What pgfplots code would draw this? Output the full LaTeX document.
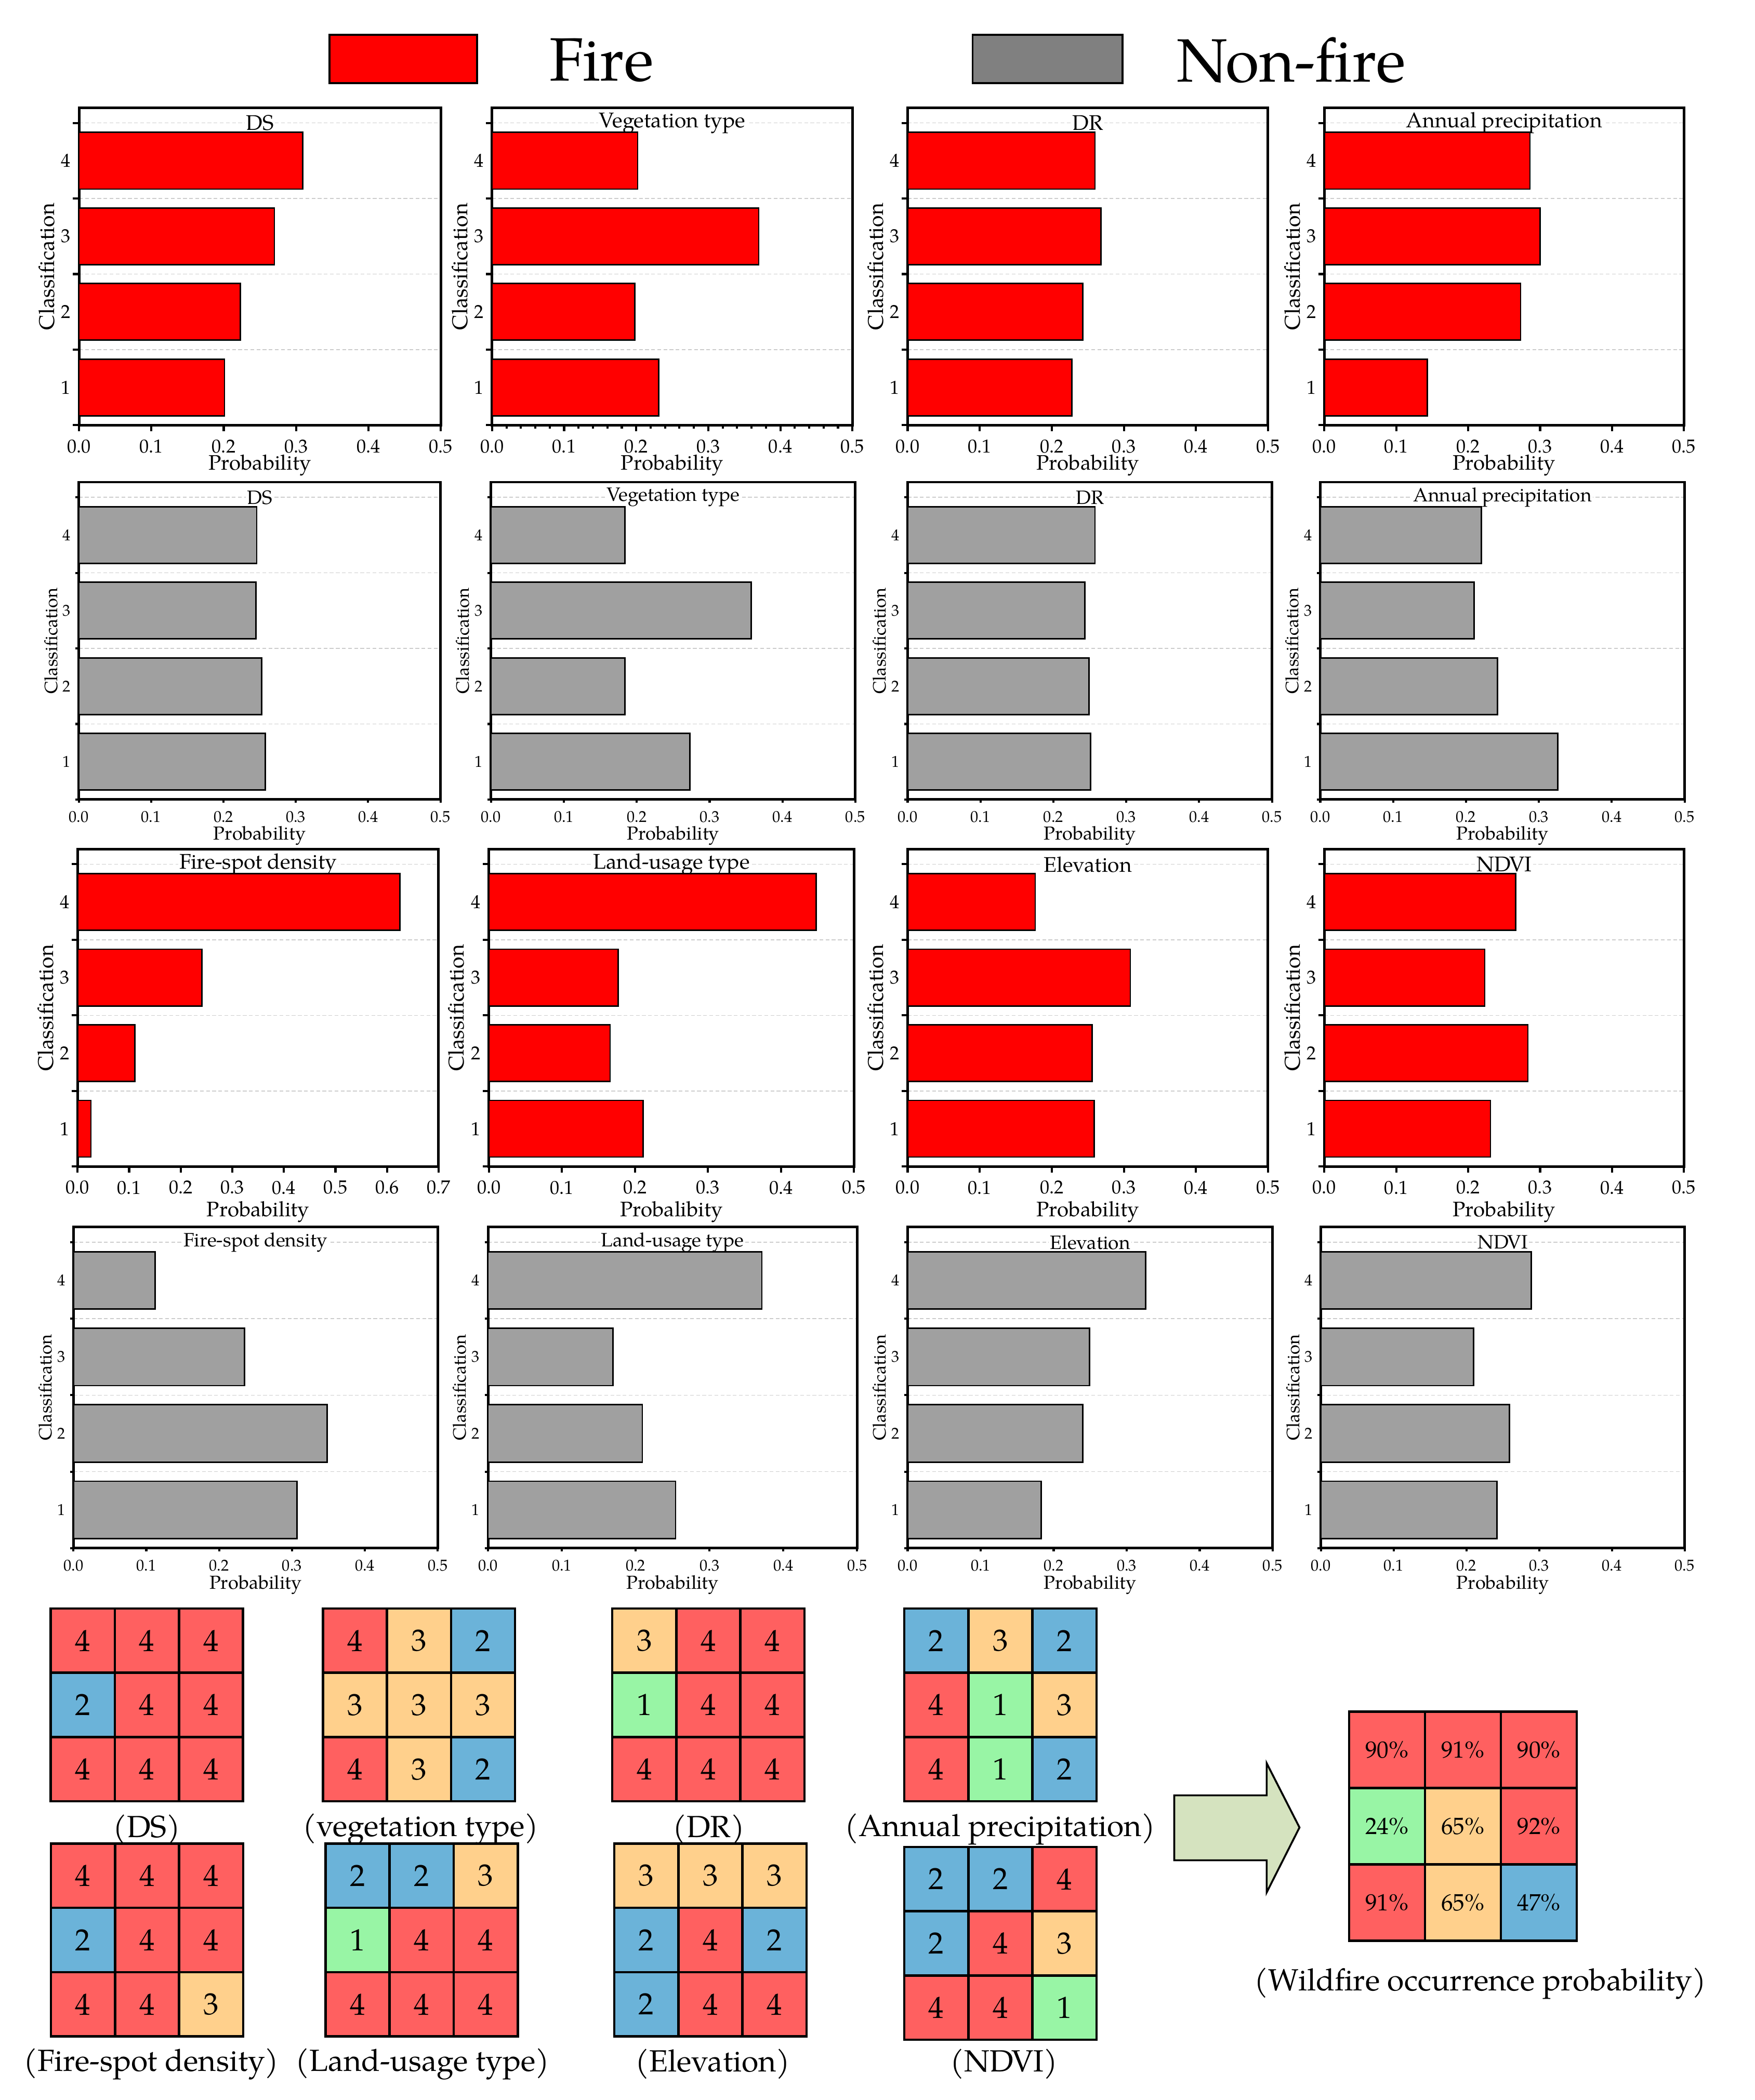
\documentclass[border=0pt]{standalone}
\usepackage{fontspec}
\setmainfont{TeX Gyre Pagella}
\usepackage{pgfplots}
\usepackage{pgfplotstable}
\pgfplotsset{compat=1.18}
\definecolor{firered}{HTML}{FF0000}
\definecolor{bargray}{HTML}{A0A0A0}
\definecolor{leggray}{HTML}{808080}
\definecolor{arrowfill}{HTML}{D5E3BF}
\newcommand{\fs}[1]{\fontsize{#1}{#1}\selectfont}

% class maps (rows top to bottom)
\pgfplotstableread{
x y c
0 0 4
1 0 4
2 0 4
0 1 2
1 1 4
2 1 4
0 2 4
1 2 4
2 2 4
}\gridDS
\pgfplotstableread{
x y c
0 0 4
1 0 3
2 0 2
0 1 3
1 1 3
2 1 3
0 2 4
1 2 3
2 2 2
}\gridVeg
\pgfplotstableread{
x y c
0 0 3
1 0 4
2 0 4
0 1 1
1 1 4
2 1 4
0 2 4
1 2 4
2 2 4
}\gridDR
\pgfplotstableread{
x y c
0 0 2
1 0 3
2 0 2
0 1 4
1 1 1
2 1 3
0 2 4
1 2 1
2 2 2
}\gridAP
\pgfplotstableread{
x y c
0 0 4
1 0 4
2 0 4
0 1 2
1 1 4
2 1 4
0 2 4
1 2 4
2 2 3
}\gridFSD
\pgfplotstableread{
x y c
0 0 2
1 0 2
2 0 3
0 1 1
1 1 4
2 1 4
0 2 4
1 2 4
2 2 4
}\gridLand
\pgfplotstableread{
x y c
0 0 3
1 0 3
2 0 3
0 1 2
1 1 4
2 1 2
0 2 2
1 2 4
2 2 4
}\gridElev
\pgfplotstableread{
x y c
0 0 2
1 0 2
2 0 4
0 1 2
1 1 4
2 1 3
0 2 4
1 2 4
2 2 1
}\gridNDVI
\pgfplotstableread{
x y c p
0 0 4 90
1 0 4 91
2 0 4 90
0 1 1 24
1 1 3 65
2 1 4 92
0 2 4 91
1 2 3 65
2 2 2 47
}\gridRes

\pgfplotsset{
  wfpanel/.style={
    scale only axis, anchor=north west, xbar, bar width=0.75,
    xmin=0, xmax=0.5, ymin=0.5, ymax=4.7,
    xtick distance=0.1,
    ytick={0.5,1.5,2.5,3.5,4.5}, yticklabels={},
    extra y ticks={1,2,3,4},
    extra y tick style={major tick length=0pt, grid=none},
    ymajorgrids, major grid style={black!20, line width=0.35pt, dash pattern=on 1.6pt off 1pt},
    xtick pos=lower, ytick pos=left, tick align=outside,
    minor tick length=0.05cm,
    tick style={black, line width=0.9pt},
    axis line style={line width=1.1pt},
    xticklabel style={/pgf/number format/fixed, /pgf/number format/fixed zerofill, /pgf/number format/precision=1, /pgf/number format/assume math mode=true},
    yticklabel style={/pgf/number format/assume math mode=true},
    xlabel={Probability}, ylabel={Classification},
  },
  wffire/.style={wfpanel, height=4.74cm, major tick length=0.09cm,
    tick label style={font=\fs{8}},
    xlabel style={font=\fs{8.9}, at={(axis description cs:0.5,-0.127)}, anchor=center},
    ylabel style={font=\fs{9.1}, at={(axis description cs:-0.089,0.5)}, anchor=center},
  },
  wfnon/.style={wfpanel, height=4.74cm, major tick length=0.05cm,
    tick label style={font=\fs{6.7}},
    xlabel style={font=\fs{8}, at={(axis description cs:0.5,-0.114)}, anchor=center},
    ylabel style={font=\fs{7.6}, at={(axis description cs:-0.077,0.5)}, anchor=center},
  },
  wfbarF/.style={fill=firered, draw=black, line width=0.6pt},
  wfbarN/.style={fill=bargray, draw=black, line width=0.6pt},
  wfcells/.style={
    scale only axis, anchor=north west, width=2.87cm, height=2.88cm,
    xmin=-0.5, xmax=2.5, ymin=-0.5, ymax=2.5, y dir=reverse,
    xtick={0.5,1.5}, ytick={0.5,1.5}, xticklabels={}, yticklabels={},
    major tick length=0pt, grid=major, major grid style={black, line width=1pt},
    axis line style={line width=1pt}, axis on top,
    colormap={cls}{rgb255=(152,245,165) rgb255=(107,179,217) rgb255=(255,208,140) rgb255=(255,96,96)},
    point meta min=1, point meta max=4,
  },
  wffill/.style={matrix plot, mesh/cols=3, point meta=explicit},
  wftext/.style={draw=none, mark=none, nodes near coords, nodes near coords align=center,
    point meta=explicit symbolic, every node near coord/.append style={font=\fs{13}, text=black}},
}
\tikzset{
  ttlA/.style={fill=white, inner sep=0.5pt, font=\fs{9}},
  ttlB/.style={fill=white, inner sep=0.5pt, font=\fs{8.2}},
  captxt/.style={font=\fs{13}},
}

\begin{document}
\begin{tikzpicture}
\path[use as bounding box] (0,0) rectangle (26.2,-31.36);

% legend
\draw[fill=firered, line width=0.8pt] (4.92,-0.52) rectangle (7.12,-1.24);
\node[anchor=west, inner sep=0pt, font=\fs{26}] at (8.2,-0.9) {Fire};
\draw[fill=leggray, line width=0.8pt] (14.52,-0.52) rectangle (16.76,-1.24);
\node[anchor=west, inner sep=0pt, font=\fs{26}] at (17.56,-0.9) {Non-fire};

% ---------- row 1: fire ----------
\begin{axis}[wffire, at={(1.18cm,-1.61cm)}, width=5.40cm]
\node[ttlA] at (rel axis cs:0.5,0.952) {DS};
\addplot[wfbarF] coordinates {(0.201,1) (0.223,2) (0.270,3) (0.309,4)};
\end{axis}
\begin{axis}[wffire, at={(7.346cm,-1.61cm)}, width=5.38cm, minor x tick num=4]
\node[ttlA] at (rel axis cs:0.5,0.952) {Vegetation type};
\addplot[wfbarF] coordinates {(0.231,1) (0.198,2) (0.370,3) (0.202,4)};
\end{axis}
\begin{axis}[wffire, at={(13.55cm,-1.61cm)}, width=5.38cm]
\node[ttlA] at (rel axis cs:0.5,0.952) {DR};
\addplot[wfbarF] coordinates {(0.228,1) (0.243,2) (0.268,3) (0.260,4)};
\end{axis}
\begin{axis}[wffire, at={(19.77cm,-1.61cm)}, width=5.37cm]
\node[ttlA] at (rel axis cs:0.5,0.952) {Annual precipitation};
\addplot[wfbarF] coordinates {(0.143,1) (0.273,2) (0.300,3) (0.286,4)};
\end{axis}

% ---------- row 2: non-fire ----------
\begin{axis}[wfnon, at={(1.176cm,-7.20cm)}, width=5.40cm]
\node[ttlB] at (rel axis cs:0.5,0.952) {DS};
\addplot[wfbarN] coordinates {(0.258,1) (0.253,2) (0.245,3) (0.246,4)};
\end{axis}
\begin{axis}[wfnon, at={(7.33cm,-7.20cm)}, width=5.44cm]
\node[ttlB] at (rel axis cs:0.5,0.952) {Vegetation type};
\addplot[wfbarN] coordinates {(0.273,1) (0.184,2) (0.357,3) (0.184,4)};
\end{axis}
\begin{axis}[wfnon, at={(13.55cm,-7.20cm)}, width=5.44cm]
\node[ttlB] at (rel axis cs:0.5,0.952) {DR};
\addplot[wfbarN] coordinates {(0.251,1) (0.249,2) (0.243,3) (0.257,4)};
\end{axis}
\begin{axis}[wfnon, at={(19.71cm,-7.20cm)}, width=5.44cm]
\node[ttlB] at (rel axis cs:0.5,0.952) {Annual precipitation};
\addplot[wfbarN] coordinates {(0.326,1) (0.243,2) (0.211,3) (0.221,4)};
\end{axis}

% ---------- row 3: fire ----------
\begin{axis}[wffire, at={(1.158cm,-12.68cm)}, width=5.39cm, xmax=0.7,
  xlabel style={at={(axis description cs:0.5,-0.143)}}]
\node[ttlA] at (rel axis cs:0.5,0.952) {Fire-spot density};
\addplot[wfbarF] coordinates {(0.026,1) (0.111,2) (0.241,3) (0.625,4)};
\end{axis}
\begin{axis}[wffire, at={(7.30cm,-12.68cm)}, width=5.45cm, xlabel={Probalibity},
  xlabel style={at={(axis description cs:0.5,-0.143)}}]
\node[ttlA] at (rel axis cs:0.5,0.952) {Land-usage type};
\addplot[wfbarF] coordinates {(0.211,1) (0.166,2) (0.177,3) (0.448,4)};
\end{axis}
\begin{axis}[wffire, at={(13.55cm,-12.68cm)}, width=5.38cm,
  xlabel style={at={(axis description cs:0.5,-0.143)}}]
\node[ttlA] at (rel axis cs:0.5,0.952) {Elevation};
\addplot[wfbarF] coordinates {(0.259,1) (0.256,2) (0.309,3) (0.177,4)};
\end{axis}
\begin{axis}[wffire, at={(19.77cm,-12.68cm)}, width=5.37cm,
  xlabel style={at={(axis description cs:0.5,-0.143)}}]
\node[ttlA] at (rel axis cs:0.5,0.952) {NDVI};
\addplot[wfbarF] coordinates {(0.231,1) (0.283,2) (0.223,3) (0.266,4)};
\end{axis}

% ---------- row 4: non-fire ----------
\begin{axis}[wfnon, at={(1.096cm,-18.32cm)}, width=5.44cm, height=4.80cm]
\node[ttlB] at (rel axis cs:0.5,0.952) {Fire-spot density};
\addplot[wfbarN] coordinates {(0.307,1) (0.348,2) (0.235,3) (0.112,4)};
\end{axis}
\begin{axis}[wfnon, at={(7.286cm,-18.32cm)}, width=5.51cm, height=4.80cm]
\node[ttlB] at (rel axis cs:0.5,0.952) {Land-usage type};
\addplot[wfbarN] coordinates {(0.254,1) (0.209,2) (0.169,3) (0.371,4)};
\end{axis}
\begin{axis}[wfnon, at={(13.55cm,-18.32cm)}, width=5.45cm, height=4.80cm]
\node[ttlB] at (rel axis cs:0.5,0.952) {Elevation};
\addplot[wfbarN] coordinates {(0.183,1) (0.240,2) (0.249,3) (0.326,4)};
\end{axis}
\begin{axis}[wfnon, at={(19.72cm,-18.32cm)}, width=5.43cm, height=4.80cm]
\node[ttlB] at (rel axis cs:0.5,0.952) {NDVI};
\addplot[wfbarN] coordinates {(0.242,1) (0.259,2) (0.210,3) (0.289,4)};
\end{axis}

% ---------- class maps ----------
\begin{axis}[wfcells, at={(0.758cm,-24.02cm)}]
\addplot[wffill] table[meta=c] {\gridDS};
\addplot[wftext] table[meta=c] {\gridDS};
\end{axis}
\begin{axis}[wfcells, at={(4.82cm,-24.02cm)}]
\addplot[wffill] table[meta=c] {\gridVeg};
\addplot[wftext] table[meta=c] {\gridVeg};
\end{axis}
\begin{axis}[wfcells, at={(9.14cm,-24.02cm)}]
\addplot[wffill] table[meta=c] {\gridDR};
\addplot[wftext] table[meta=c] {\gridDR};
\end{axis}
\begin{axis}[wfcells, at={(13.50cm,-24.02cm)}]
\addplot[wffill] table[meta=c] {\gridAP};
\addplot[wftext] table[meta=c] {\gridAP};
\end{axis}
\begin{axis}[wfcells, at={(0.76cm,-27.53cm)}]
\addplot[wffill] table[meta=c] {\gridFSD};
\addplot[wftext] table[meta=c] {\gridFSD};
\end{axis}
\begin{axis}[wfcells, at={(4.86cm,-27.53cm)}]
\addplot[wffill] table[meta=c] {\gridLand};
\addplot[wftext] table[meta=c] {\gridLand};
\end{axis}
\begin{axis}[wfcells, at={(9.17cm,-27.53cm)}]
\addplot[wffill] table[meta=c] {\gridElev};
\addplot[wftext] table[meta=c] {\gridElev};
\end{axis}
\begin{axis}[wfcells, at={(13.50cm,-27.58cm)}]
\addplot[wffill] table[meta=c] {\gridNDVI};
\addplot[wftext] table[meta=c] {\gridNDVI};
\end{axis}
\begin{axis}[wfcells, at={(20.14cm,-25.56cm)}, width=3.40cm, height=3.42cm]
\addplot[wffill] table[meta=c] {\gridRes};
\addplot[wftext, nodes near coords={\pgfplotspointmeta\%},
  every node near coord/.append style={font=\fs{10}}] table[meta=p] {\gridRes};
\end{axis}

% captions
\node[captxt] at (2.19,-27.32) {(DS)};
\node[captxt] at (6.28,-27.32) {(vegetation type)};
\node[captxt] at (10.58,-27.32) {(DR)};
\node[captxt] at (14.93,-27.32) {(Annual precipitation)};
\node[captxt] at (2.26,-30.82) {(Fire-spot density)};
\node[captxt] at (6.31,-30.82) {(Land-usage type)};
\node[captxt] at (10.64,-30.82) {(Elevation)};
\node[captxt] at (14.99,-30.82) {(NDVI)};
\node[captxt] at (22.10,-29.62) {(Wildfire occurrence probability)};

% arrow
\draw[fill=arrowfill, line width=0.8pt] (17.53,-26.81) -- (18.91,-26.81) -- (18.91,-26.33)
  -- (19.40,-27.29) -- (18.91,-28.26) -- (18.91,-27.78) -- (17.53,-27.78) -- cycle;
\end{tikzpicture}
\end{document}
